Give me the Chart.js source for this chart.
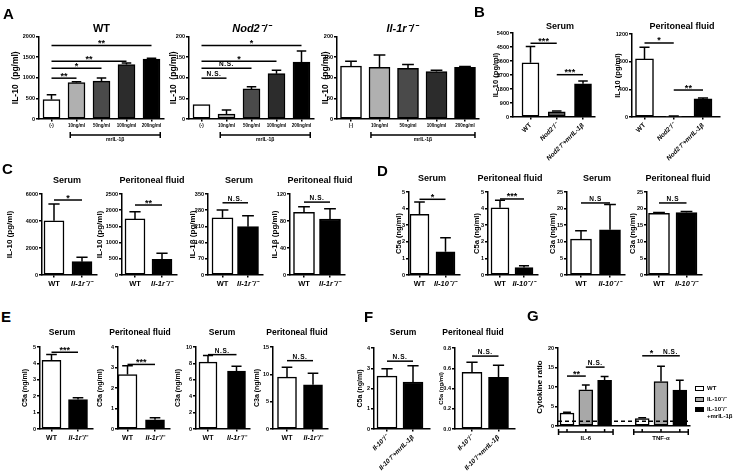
<!DOCTYPE html>
<html>
<head>
<meta charset="utf-8">
<script src="https://cdn.jsdelivr.net/npm/chart.js@4.4.1/dist/chart.umd.min.js"></script>
<style>
  body { margin: 0; background: #fff; }
  #fig { position: relative; width: 741px; height: 475px; overflow: hidden; background: #fff;
         font-family: "Liberation Sans", Arial, sans-serif; font-weight: bold; color: #000; }
  #fig canvas { position: absolute; }
  .lt { position: absolute; font-size: 15px; line-height: 15px; }
  .leg { position: absolute; font-size: 6px; line-height: 7px; }
  .sw { position: absolute; width: 9px; height: 5px; border: 1.5px solid #000; box-sizing: border-box; }
</style>
</head>
<body>
<div id="fig"></div>
<script>
// ---- A : IL-10 vs mrIL-1beta dose ----
const doseLabels = ['(-)', '10ng/ml', '50ng/ml', '100ng/ml', '200ng/ml'];
const aWT = [470, 880, 920, 1320, 1450];
const aWTErr = [115, 25, 75, 40, 20];
const aNod2 = [35, 12, 73, 110, 138];
const aNod2Err = [0, 10, 5, 8, 27];
const aIl1r = [128, 125, 123, 115, 125];
const aIl1rErr = [12, 30, 9, 3, 2];
const aWTSig = [[0, 4, 1780, '**'], [0, 3, 1400, '**'], [0, 2, 1230, '*'], [0, 1, 990, '**']];
const aNod2Sig = [[0, 4, 178, '*'], [0, 3, 140, '*'], [0, 2, 123, 'N.S.'], [0, 1, 99, 'N.S.']];

// ---- B ----
const bLabels = ['WT', 'Nod2⁻/⁻', 'Nod2⁻/⁻+mrIL-1β'];
const bSerum = [3480, 330, 2140];
const bSerumErr = [1050, 60, 170];
const bPeri = [840, 10, 262];
const bPeriErr = [170, 3, 13];
const bSerumSig = [[0, 1, 4740, '***'], [1, 2, 2720, '***']];
const bPeriSig = [[0, 1, 1070, '*'], [1, 2, 390, '**']];

// ---- C ----
const cLabels = ['WT', 'Il-1r⁻/⁻'];
const cSerumIL10 = [4020, 985];
const cSerumIL10Err = [1240, 325];
const cPeriIL10 = [1730, 485];
const cPeriIL10Err = [225, 185];
const cSerumIL1b = [247, 209];
const cSerumIL1bErr = [34, 47];
const cPeriIL1b = [93, 83];
const cPeriIL1bErr = [8, 15];

// ---- D ----
const dLabels = ['WT', 'Il-10⁻/⁻'];
const dSerumC5a = [3.65, 1.4];
const dSerumC5aErr = [0.75, 0.85];
const dPeriC5a = [4.05, 0.45];
const dPeriC5aErr = [0.45, 0.1];
const dSerumC3a = [10.8, 13.6];
const dSerumC3aErr = [2.5, 7.6];
const dPeriC3a = [18.6, 18.8];
const dPeriC3aErr = [0.2, 0.3];

// ---- E ----
const eLabels = ['WT', 'Il-1r⁻/⁻'];
const eSerumC5a = [4.19, 1.8];
const eSerumC5aErr = [0.35, 0.1];
const ePeriC5a = [2.66, 0.45];
const ePeriC5aErr = [0.42, 0.1];
const eSerumC3a = [8.15, 7.06];
const eSerumC3aErr = [0.8, 0.6];
const ePeriC3a = [9.5, 8.1];
const ePeriC3aErr = [1.8, 2.1];

// ---- F ----
const fLabels = ['Il-10⁻/⁻', 'Il-10⁻/⁻+mrIL-1β'];
const fSerumC5a = [2.61, 2.32];
const fSerumC5aErr = [0.36, 0.8];
const fPeriC5a = [0.56, 0.51];
const fPeriC5aErr = [0.1, 0.12];

// ---- G ----
const gGroups = ['IL-6', 'TNF-α'];
const gSeries = ['WT', 'IL-10⁻/⁻', 'IL-10⁻/⁻|+mrIL-1β'];
const gWT = [3.3, 1.9];
const gWTErr = [0.2, 0.2];
const gIl10 = [9.3, 11.4];
const gIl10Err = [1.2, 3.9];
const gCombo = [11.7, 9.2];
const gComboErr = [1.0, 2.5];
const gRef = 1.2;
const gSig = [[0, 1, 12.8, '**'], [1, 2, 15.1, 'N.S.'], [4, 5, 18, '*'], [5, 6, 18, 'N.S.']];

const FONT = '"Liberation Sans", Arial, sans-serif';
Chart.defaults.font.family = FONT;
Chart.defaults.font.weight = 'bold';
Chart.defaults.color = '#000';

const fig = document.getElementById('fig');
const doseFill = ['#ffffff', '#b0b0b0', '#4a4a4a', '#2c2c2c', '#000000'];
const pairFill = ['#ffffff', '#000000'];
const one = (v, e, fill) => [{ values: v, errors: e, fill }];

// draws error bars, significance lines, brackets, titles
const extras = {
  id: 'extras',
  afterDatasetsDraw(chart, args, o) {
    const s = o.spec;
    const ctx = chart.ctx, xs = chart.scales.x, ys = chart.scales.y, ca = chart.chartArea;
    ctx.save();
    ctx.strokeStyle = '#000'; ctx.fillStyle = '#000'; ctx.lineWidth = 1.5;
    if (s.ref != null) {
      const y = ys.getPixelForValue(s.ref);
      ctx.setLineDash([4, 3]);
      ctx.beginPath(); ctx.moveTo(ca.left, y); ctx.lineTo(ca.right, y); ctx.stroke();
      ctx.setLineDash([]);
    }
    chart.data.datasets.forEach((ds, di) => {
      chart.getDatasetMeta(di).data.forEach((bar, i) => {
        const e = ds.errors[i];
        if (!e) return;
        const yE = ys.getPixelForValue(ds.data[i].y + e);
        const hw = bar.width * 0.28;
        ctx.beginPath();
        ctx.moveTo(bar.x, bar.y); ctx.lineTo(bar.x, yE);
        ctx.moveTo(bar.x - hw, yE); ctx.lineTo(bar.x + hw, yE);
        ctx.stroke();
      });
    });
    ctx.textAlign = 'center';
    ctx.textBaseline = 'alphabetic';
    (s.sig || []).forEach(([a, b, v, t]) => {
      const xa = xs.getPixelForValue(a), xb = xs.getPixelForValue(b), y = ys.getPixelForValue(v);
      ctx.beginPath(); ctx.moveTo(xa, y); ctx.lineTo(xb, y); ctx.stroke();
      if (t.indexOf('*') >= 0) {
        ctx.font = 'bold 9px ' + FONT;
        ctx.fillText(t, (xa + xb) / 2, y + 0.5);
      } else {
        ctx.font = 'bold 6.5px ' + FONT;
        ctx.letterSpacing = '0.6px';
        ctx.fillText(t, (xa + xb) / 2, y - 2);
        ctx.letterSpacing = '0px';
      }
    });
    (s.brackets || []).forEach(br => {
      const xa = xs.getPixelForValue(br.a), xb = xs.getPixelForValue(br.b), y = ca.bottom + br.dy;
      ctx.beginPath();
      ctx.moveTo(xa, y); ctx.lineTo(xb, y);
      ctx.moveTo(xa, y - 3); ctx.lineTo(xa, y + 3);
      ctx.moveTo(xb, y - 3); ctx.lineTo(xb, y + 3);
      (br.ticks || []).forEach(p => { const x = xs.getPixelForValue(p); ctx.moveTo(x, y); ctx.lineTo(x, y - 3); });
      ctx.stroke();
      ctx.font = 'bold ' + br.size + 'px ' + FONT;
      ctx.textBaseline = 'top';
      ctx.fillText(br.text, (xa + xb) / 2, y + br.ty);
      ctx.textBaseline = 'alphabetic';
    });
    if (s.title) {
      ctx.font = (s.titleItalic ? 'italic ' : '') + 'bold ' + s.titleSize + 'px ' + FONT;
      ctx.textBaseline = 'middle';
      ctx.fillText(s.title, s.titleAt[0] - s._left, s.titleAt[1] - s._top);
    }
    ctx.restore();
  }
};

function build(s) {
  const [x0, y0, x1, y1] = s.box;
  const ySize = s.ySize || 8;
  const cLeft = Math.round(s.yTitleX - 1 - 0.6 * ySize);
  const cTop = Math.min(y0 - 14, s.titleAt ? s.titleAt[1] - 9 : y0 - 14);
  const cRight = x1 + (s.R || 16);
  const cBottom = y1 + (s.B || 22);
  const L = x0 - cLeft, T = y0 - cTop, B = cBottom - y1, R = cRight - x1;
  const W = cRight - cLeft, H = cBottom - cTop;
  s._left = cLeft; s._top = cTop;
  const cv = document.createElement('canvas');
  cv.width = W; cv.height = H;
  cv.style.left = cLeft + 'px'; cv.style.top = cTop + 'px';
  cv.style.width = W + 'px'; cv.style.height = H + 'px';
  fig.appendChild(cv);
  const sp = s.sp, c0 = s.c0;
  const ticksAt = s.tickPos || s.labels.map((l, i) => i);
  new Chart(cv, {
    type: 'bar',
    data: {
      datasets: s.series.map(se => ({
        data: se.values.map((v, i) => ({ x: se.pos ? se.pos[i] : i, y: v })),
        errors: se.errors,
        backgroundColor: se.fill,
        borderColor: '#000', borderWidth: 1.5, borderSkipped: false,
        barThickness: s.barW, grouped: false
      }))
    },
    options: {
      responsive: false, animation: false, devicePixelRatio: 1,
      layout: { padding: { left: 0, top: T, right: R, bottom: 0 } },
      plugins: { legend: { display: false }, tooltip: { enabled: false }, extras: { spec: s } },
      scales: {
        x: {
          type: 'linear', offset: false,
          min: (x0 - c0) / sp, max: (x1 - c0) / sp,
          afterBuildTicks: sc => { sc.ticks = ticksAt.map(v => ({ value: v })); },
          afterFit: sc => { sc.height = B; sc.paddingLeft = 0; sc.paddingRight = 0; },
          border: { display: true, color: '#000', width: 1.5 },
          grid: { display: s.xTick !== 0, drawOnChartArea: false, offset: false, color: '#000', lineWidth: 1.5, tickLength: s.xTick ?? 2.5 },
          ticks: {
            display: !s.noXLabels, autoSkip: false,
            minRotation: s.rot || 0, maxRotation: s.rot || 0,
            padding: s.xPad ?? 2,
            callback: (v, i) => s.labels[i],
            font: c => ({ size: s.xSize || 7.5, weight: 'bold',
              style: s.xItalic && s.xItalic[c.index] ? 'italic' : 'normal' })
          }
        },
        y: {
          min: 0, max: s.ymax,
          afterFit: sc => { sc.width = L; sc.paddingTop = 0; sc.paddingBottom = 0; },
          border: { display: true, color: '#000', width: 1.5 },
          grid: { drawOnChartArea: false, color: '#000', lineWidth: 1.5, tickLength: 3 },
          ticks: { stepSize: s.ystep, padding: 1, font: { size: s.yTickSize || 5.5, weight: 'bold' },
                   callback: v => s.yDec ? v.toFixed(s.yDec) : v },
          title: { display: true, text: s.ylabel, padding: { top: 1, bottom: 0 },
                   font: { size: ySize, weight: 'bold' } }
        }
      }
    },
    plugins: [extras]
  });
}

const mrBracket = [{ a: 0.75, b: 4.35, dy: 16, ty: 2, size: 5, text: 'mrIL-1β' }];
const specs = [
  // A
  { box: [39, 36, 164, 119], c0: 51.5, sp: 25, barW: 17, labels: doseLabels, series: one(aWT, aWTErr, doseFill),
    ymax: 2000, ystep: 500, title: 'WT', titleAt: [101.5, 28.5], titleSize: 11, ylabel: 'IL-10  (pg/ml)', yTitleX: 16,
    ySize: 8.5, xSize: 4.5, sig: aWTSig, brackets: mrBracket, B: 30 },
  { box: [189, 36, 314, 119], c0: 201.5, sp: 25, barW: 17, labels: doseLabels, series: one(aNod2, aNod2Err, doseFill),
    ymax: 200, ystep: 50, title: 'Nod2⁻/⁻', titleItalic: true, titleAt: [251.5, 28.5], titleSize: 11, ylabel: 'IL-10  (pg/ml)', yTitleX: 174,
    ySize: 8.5, xSize: 4.5, sig: aNod2Sig, brackets: mrBracket, B: 30 },
  { box: [337, 36, 479, 119], c0: 351, sp: 28.5, barW: 21, labels: doseLabels, series: one(aIl1r, aIl1rErr, doseFill),
    ymax: 200, ystep: 50, title: 'Il-1r⁻/⁻', titleItalic: true, titleAt: [402, 28.5], titleSize: 11, ylabel: 'IL-10  (pg/ml)', yTitleX: 326,
    ySize: 8.5, xSize: 4.5, brackets: [{ a: 0.7, b: 4.35, dy: 16, ty: 2, size: 5, text: 'mrIL-1β' }], B: 30 },
  // B
  { box: [513, 33, 595, 117], c0: 530.5, sp: 26.25, barW: 17, labels: bLabels, series: one(bSerum, bSerumErr, ['#fff', '#555', '#000']),
    ymax: 5400, ystep: 900, title: 'Serum', titleAt: [560, 27], titleSize: 9, ylabel: 'IL-10 (pg/ml)', yTitleX: 495,
    ySize: 7.5, xSize: 6.5, rot: 45, xItalic: [0, 1, 1], sig: bSerumSig, B: 50 },
  { box: [632, 34, 720, 117], c0: 644.5, sp: 29.25, barW: 18, labels: bLabels, series: one(bPeri, bPeriErr, ['#fff', '#555', '#000']),
    ymax: 1200, ystep: 400, title: 'Peritoneal fluid', titleAt: [682, 27], titleSize: 9, ylabel: 'IL-10 (pg/ml)', yTitleX: 617,
    ySize: 7.5, xSize: 6.5, rot: 45, xItalic: [0, 1, 1], sig: bPeriSig, B: 50, R: 20 },
  // C
  { box: [42, 194, 97, 275], c0: 54, sp: 28, barW: 20, labels: cLabels, series: one(cSerumIL10, cSerumIL10Err, pairFill),
    ymax: 6000, ystep: 2000, title: 'Serum', titleAt: [67, 181], titleSize: 9, ylabel: 'IL-10 (pg/ml)', yTitleX: 10,
    xItalic: [0, 1], sig: [[0, 1, 5555, '*']] },
  { box: [122, 194, 177, 275], c0: 135, sp: 27, barW: 20, labels: cLabels, series: one(cPeriIL10, cPeriIL10Err, pairFill),
    ymax: 2500, ystep: 500, title: 'Peritoneal fluid', titleAt: [152, 181], titleSize: 9, ylabel: 'IL-10 (pg/ml)', yTitleX: 100,
    xItalic: [0, 1], sig: [[0, 1, 2160, '**']] },
  { box: [208, 194, 263, 275], c0: 222.5, sp: 25.5, barW: 21, labels: cLabels, series: one(cSerumIL1b, cSerumIL1bErr, pairFill),
    ymax: 350, ystep: 70, title: 'Serum', titleAt: [239, 181], titleSize: 9, ylabel: 'IL-1β (pg/ml)', yTitleX: 193,
    xItalic: [0, 1], sig: [[0, 1, 312, 'N.S.']] },
  { box: [290, 194, 345, 275], c0: 304, sp: 26, barW: 21, labels: cLabels, series: one(cPeriIL1b, cPeriIL1bErr, pairFill),
    ymax: 120, ystep: 40, title: 'Peritoneal fluid', titleAt: [320, 181], titleSize: 9, ylabel: 'IL-1β (pg/ml)', yTitleX: 275,
    xItalic: [0, 1], sig: [[0, 1, 108, 'N.S.']] },
  // D
  { box: [409, 192, 460, 275], c0: 419.5, sp: 26, barW: 19, labels: dLabels, series: one(dSerumC5a, dSerumC5aErr, pairFill),
    ymax: 5, ystep: 1, title: 'Serum', titleAt: [432, 179], titleSize: 9, ylabel: 'C5a (ng/ml)', yTitleX: 398, ySize: 7.5,
    xItalic: [0, 1], sig: [[0, 1, 4.56, '*']] },
  { box: [488, 192, 538, 275], c0: 500, sp: 24, barW: 18, labels: dLabels, series: one(dPeriC5a, dPeriC5aErr, pairFill),
    ymax: 5, ystep: 1, title: 'Peritoneal fluid', titleAt: [510, 179], titleSize: 9, ylabel: 'C5a (ng/ml)', yTitleX: 476, ySize: 7.5,
    xItalic: [0, 1], sig: [[0, 1, 4.58, '***']] },
  { box: [567, 192, 625, 275], c0: 581, sp: 29, barW: 21, labels: dLabels, series: one(dSerumC3a, dSerumC3aErr, pairFill),
    ymax: 25, ystep: 5, title: 'Serum', titleAt: [597, 179], titleSize: 9, ylabel: 'C3a (ng/ml)', yTitleX: 552, ySize: 7.5,
    xItalic: [0, 1], sig: [[0, 1, 21.7, 'N.S']] },
  { box: [647, 192, 702, 275], c0: 659, sp: 27.5, barW: 21, labels: dLabels, series: one(dPeriC3a, dPeriC3aErr, pairFill),
    ymax: 25, ystep: 5, title: 'Peritoneal fluid', titleAt: [678, 179], titleSize: 9, ylabel: 'C3a (ng/ml)', yTitleX: 632, ySize: 7.5,
    xItalic: [0, 1], sig: [[0, 1, 21.7, 'N.S']], R: 20 },
  // E
  { box: [40, 347, 93, 429], c0: 51.5, sp: 26.5, barW: 19, labels: eLabels, series: one(eSerumC5a, eSerumC5aErr, pairFill),
    ymax: 5, ystep: 1, title: 'Serum', titleAt: [62, 333], titleSize: 8.5, ylabel: 'C5a (ng/ml)', yTitleX: 25, ySize: 7,
    xSize: 7, xItalic: [0, 1], sig: [[0, 1, 4.68, '***']] },
  { box: [118, 347, 170, 429], c0: 127.5, sp: 27.5, barW: 19, labels: eLabels, series: one(ePeriC5a, ePeriC5aErr, pairFill),
    ymax: 4, ystep: 1, title: 'Peritoneal fluid', titleAt: [140, 333], titleSize: 8.5, ylabel: 'C5a (ng/ml)', yTitleX: 100, ySize: 7,
    xSize: 7, xItalic: [0, 1], sig: [[0, 1, 3.15, '***']] },
  { box: [196, 347, 250, 429], c0: 208, sp: 28.5, barW: 18, labels: eLabels, series: one(eSerumC3a, eSerumC3aErr, pairFill),
    ymax: 10, ystep: 2, title: 'Serum', titleAt: [222, 333], titleSize: 8.5, ylabel: 'C3a (ng/ml)', yTitleX: 178, ySize: 7,
    xSize: 7, xItalic: [0, 1], sig: [[0, 1, 9.07, 'N.S.']] },
  { box: [273, 347, 328, 429], c0: 287, sp: 26, barW: 19, labels: eLabels, series: one(ePeriC3a, ePeriC3aErr, pairFill),
    ymax: 15, ystep: 5, title: 'Peritoneal fluid', titleAt: [297, 333], titleSize: 8.5, ylabel: 'C3a (ng/ml)', yTitleX: 257, ySize: 7,
    xSize: 7, xItalic: [0, 1], sig: [[0, 1, 12.5, 'N.S.']] },
  // F
  { box: [374, 348, 430, 429], c0: 387, sp: 26, barW: 20, labels: fLabels, series: one(fSerumC5a, fSerumC5aErr, pairFill),
    ymax: 4, ystep: 1, title: 'Serum', titleAt: [403, 333], titleSize: 8.5, ylabel: 'C5a (ng/ml)', yTitleX: 360, ySize: 7,
    xSize: 6.5, rot: 45, xItalic: [1, 1], sig: [[0, 1, 3.35, 'N.S.']], B: 46 },
  { box: [455, 348, 515, 429], c0: 472, sp: 26.5, barW: 20, labels: fLabels, series: one(fPeriC5a, fPeriC5aErr, pairFill),
    ymax: 0.8, ystep: 0.2, yDec: 1, title: 'Peritoneal fluid', titleAt: [473, 333], titleSize: 8.5, ylabel: 'C5a (ng/ml)', yTitleX: 442, ySize: 6,
    xSize: 6.5, rot: 45, xItalic: [1, 1], sig: [[0, 1, 0.72, 'N.S.']], B: 46 },
  // G
  { box: [558, 348, 690, 426], c0: 567, sp: 18.8, barW: 14, labels: gGroups, noXLabels: true, xTick: 0,
    tickPos: [0, 1, 2, 4, 5, 6],
    series: [
      { values: gWT, errors: gWTErr, fill: '#ffffff', pos: [0, 4] },
      { values: gIl10, errors: gIl10Err, fill: '#a8a8a8', pos: [1, 5] },
      { values: gCombo, errors: gComboErr, fill: '#000000', pos: [2, 6] }
    ],
    ymax: 20, ystep: 5, ylabel: 'Cytokine ratio', yTitleX: 540, ySize: 8, ref: gRef, sig: gSig,
    brackets: gGroups.map((g, k) => ({ a: 4 * k - 0.45, b: 4 * k + 2.45, ticks: [4 * k, 4 * k + 1, 4 * k + 2], dy: 6, ty: 3, size: 6, text: g })),
    B: 20 }
];
specs.forEach(build);

// panel letters
[['A', 3, 6], ['B', 474, 4], ['C', 2, 161], ['D', 377, 163], ['E', 1, 309], ['F', 364, 309], ['G', 527, 308]].forEach(([t, x, y]) => {
  const d = document.createElement('div');
  d.className = 'lt'; d.textContent = t; d.style.left = x + 'px'; d.style.top = y + 'px';
  fig.appendChild(d);
});

// legend for G
const gFills = ['#ffffff', '#a8a8a8', '#000000'];
gSeries.forEach((name, k) => {
  const sw = document.createElement('div');
  sw.className = 'sw'; sw.style.left = '695px'; sw.style.top = (386 + k * 10.5) + 'px'; sw.style.background = gFills[k];
  fig.appendChild(sw);
  const t = document.createElement('div');
  t.className = 'leg'; t.style.left = '707px'; t.style.top = (385 + k * 10.5) + 'px';
  t.innerHTML = name.split('|').join('<br>');
  fig.appendChild(t);
});
</script>
</body>
</html>
